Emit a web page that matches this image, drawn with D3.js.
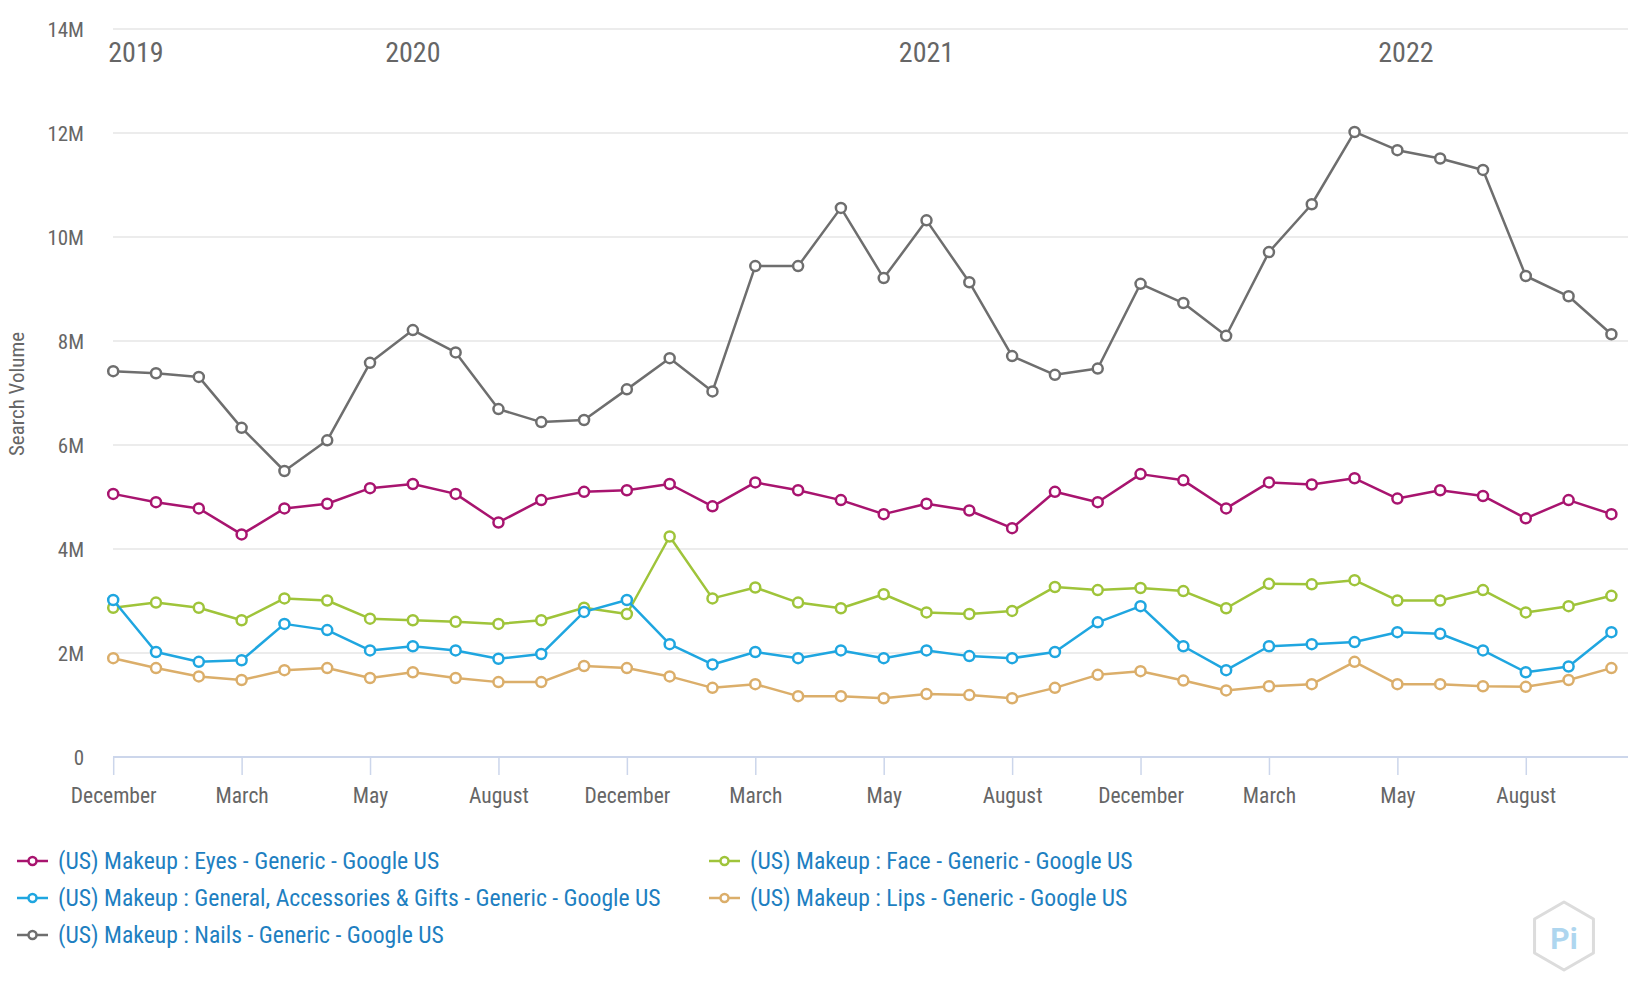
<!DOCTYPE html>
<html>
<head>
<meta charset="utf-8">
<script src="https://cdn.jsdelivr.net/npm/d3@7/dist/d3.min.js"></script>
<style>
  body { margin: 0; background: #fff; }
  svg { display: block; }
  text { font-family: "Roboto Condensed", "Liberation Sans Narrow", Roboto, sans-serif; }
</style>
</head>
<body>
<svg id="chart" width="1628" height="1000"></svg>
<script>
// monthly search volume, in millions
const tickIndex = [0, 3, 6, 9, 12, 15, 18, 21, 24, 27, 30, 33];
const tickLabels = ["December", "March", "May", "August", "December", "March", "May", "August", "December", "March", "May", "August"];
const yearLabels = ["2019", "2020", "2021", "2022"];
const yearIndex = [0.53, 7, 19, 30.2];
const yTicks = [0, 2, 4, 6, 8, 10, 12, 14];

const seriesNames = [
  "(US) Makeup : Eyes - Generic - Google US",
  "(US) Makeup : Face - Generic - Google US",
  "(US) Makeup : General, Accessories & Gifts - Generic - Google US",
  "(US) Makeup : Lips - Generic - Google US",
  "(US) Makeup : Nails - Generic - Google US"
];
const seriesColors = ["#a8146f", "#9fc43a", "#1fa6e0", "#dbae6a", "#6e6e6e"];

const eyes = [5.06, 4.90, 4.78, 4.28, 4.78, 4.87, 5.17, 5.25, 5.06, 4.51, 4.94, 5.10, 5.13, 5.25, 4.82, 5.28, 5.13, 4.94, 4.67, 4.87, 4.74, 4.40, 5.10, 4.90, 5.44, 5.32, 4.78, 5.28, 5.24, 5.36, 4.97, 5.13, 5.02, 4.59, 4.94, 4.67];
const face = [2.87, 2.97, 2.87, 2.63, 3.05, 3.01, 2.66, 2.63, 2.60, 2.56, 2.63, 2.87, 2.75, 4.24, 3.05, 3.26, 2.97, 2.86, 3.13, 2.78, 2.75, 2.81, 3.27, 3.21, 3.25, 3.19, 2.86, 3.33, 3.32, 3.40, 3.01, 3.01, 3.21, 2.78, 2.90, 3.10];
const general = [3.02, 2.02, 1.83, 1.86, 2.56, 2.44, 2.05, 2.13, 2.05, 1.89, 1.98, 2.79, 3.02, 2.17, 1.78, 2.02, 1.90, 2.05, 1.90, 2.05, 1.94, 1.90, 2.02, 2.59, 2.90, 2.13, 1.67, 2.13, 2.17, 2.21, 2.40, 2.37, 2.05, 1.63, 1.74, 2.40];
const lips = [1.90, 1.71, 1.55, 1.48, 1.67, 1.71, 1.52, 1.63, 1.52, 1.44, 1.44, 1.75, 1.71, 1.55, 1.33, 1.40, 1.17, 1.17, 1.13, 1.21, 1.19, 1.13, 1.33, 1.58, 1.65, 1.47, 1.28, 1.36, 1.40, 1.83, 1.40, 1.40, 1.36, 1.35, 1.48, 1.71];
const nails = [7.42, 7.38, 7.31, 6.33, 5.50, 6.09, 7.58, 8.21, 7.78, 6.69, 6.44, 6.48, 7.07, 7.67, 7.03, 9.44, 9.44, 10.56, 9.21, 10.32, 9.13, 7.71, 7.35, 7.47, 9.10, 8.73, 8.10, 9.71, 10.63, 12.02, 11.67, 11.51, 11.29, 9.25, 8.86, 8.13];

const seriesValues = [eyes, face, general, lips, nails];

const svg = d3.select("#chart");
const plot = { left: 113, right: 1628, top: 29, bottom: 757 };

const x = d3.scaleLinear().domain([0, 35]).range([113.2, 1611.4]);
const y = d3.scaleLinear().domain([0, 14]).range([plot.bottom, plot.top]);

// gridlines
svg.append("g")
  .selectAll("line")
  .data(yTicks.filter(d => d > 0))
  .enter()
  .append("line")
  .attr("x1", plot.left)
  .attr("x2", plot.right)
  .attr("y1", d => y(d))
  .attr("y2", d => y(d))
  .attr("stroke", "#e6e6e6")
  .attr("stroke-width", 1.5);

// y labels
const yAxis = d3.axisLeft(y)
  .tickValues(yTicks)
  .tickSize(0)
  .tickPadding(0)
  .tickFormat(d => d === 0 ? "0" : d + "M");

const yg = svg.append("g")
  .attr("transform", "translate(84,0)")
  .call(yAxis);
yg.select(".domain").remove();
yg.selectAll("text")
  .attr("dy", "0.35em")
  .style("font-size", "21px")
  .style("fill", "#666");

svg.append("text")
  .attr("transform", "translate(24,394) rotate(-90)")
  .attr("text-anchor", "middle")
  .style("font-size", "21px")
  .style("fill", "#666")
  .text("Search Volume");

// x axis
const xAxis = d3.axisBottom(x)
  .tickValues(tickIndex)
  .tickSize(18)
  .tickPadding(13)
  .tickFormat((d, i) => tickLabels[i]);

const xg = svg.append("g")
  .attr("transform", `translate(0,${plot.bottom})`)
  .call(xAxis);
xg.select(".domain")
  .attr("d", `M${plot.left},0H${plot.right}`)
  .attr("stroke", "#ccd6eb")
  .attr("stroke-width", 2);
xg.selectAll(".tick line")
  .attr("stroke", "#ccd6eb")
  .attr("stroke-width", 1.5);
xg.selectAll(".tick text")
  .style("font-size", "21.5px")
  .style("fill", "#666");

// year labels
svg.append("g")
  .selectAll("text")
  .data(yearLabels)
  .enter()
  .append("text")
  .attr("x", (d, i) => x(yearIndex[i]))
  .attr("y", 52)
  .attr("dy", "0.35em")
  .attr("text-anchor", "middle")
  .style("font-size", "28px")
  .style("fill", "#666")
  .text(d => d);

// lines
const line = d3.line()
  .x((d, i) => x(i))
  .y(d => y(d));

const groups = svg.append("g")
  .selectAll(".series")
  .data(seriesValues)
  .enter()
  .append("g")
  .attr("class", "series");

groups.append("path")
  .attr("d", d => line(d))
  .attr("fill", "none")
  .attr("stroke", (d, i) => seriesColors[i])
  .attr("stroke-width", 2.5)
  .attr("stroke-linejoin", "round");

groups.each(function(values, si) {
  d3.select(this).selectAll("circle")
    .data(values)
    .enter()
    .append("circle")
    .attr("cx", (d, i) => x(i))
    .attr("cy", d => y(d))
    .attr("r", 5)
    .attr("fill", "#fff")
    .attr("stroke", seriesColors[si])
    .attr("stroke-width", 2.5);
});

// legend: two columns, row-major
const legend = svg.append("g");
const items = legend.selectAll(".legend-item")
  .data(seriesNames)
  .enter()
  .append("g")
  .attr("class", "legend-item")
  .attr("transform", (d, i) => `translate(${i % 2 === 0 ? 17 : 709},${861 + Math.floor(i / 2) * 37})`);

items.append("line")
  .attr("x1", 0)
  .attr("x2", 31)
  .attr("stroke", (d, i) => seriesColors[i])
  .attr("stroke-width", 2.5);

items.append("circle")
  .attr("cx", 15.5)
  .attr("r", 4)
  .attr("fill", "#fff")
  .attr("stroke", (d, i) => seriesColors[i])
  .attr("stroke-width", 2.5);

items.append("text")
  .attr("x", 41)
  .attr("dy", "0.35em")
  .style("font-size", "23.7px")
  .style("fill", "#1e7fc1")
  .text(d => d);

// watermark logo
const logo = svg.append("g").attr("transform", "translate(1564,936)");
const hex = d3.range(6).map(k => {
  const a = Math.PI / 3 * k - Math.PI / 2;
  return [34 * Math.cos(a), 34 * Math.sin(a)];
});
logo.append("path")
  .attr("d", "M" + hex.join("L") + "Z")
  .attr("fill", "none")
  .attr("stroke", "#dcdcdc")
  .attr("stroke-width", 3)
  .attr("stroke-linejoin", "round");
logo.append("text")
  .attr("y", 2)
  .attr("dy", "0.35em")
  .attr("text-anchor", "middle")
  .style("font-family", "Roboto, sans-serif")
  .style("font-weight", "bold")
  .style("font-size", "30px")
  .style("fill", "#aed6ef")
  .text("Pi");
</script>
</body>
</html>
